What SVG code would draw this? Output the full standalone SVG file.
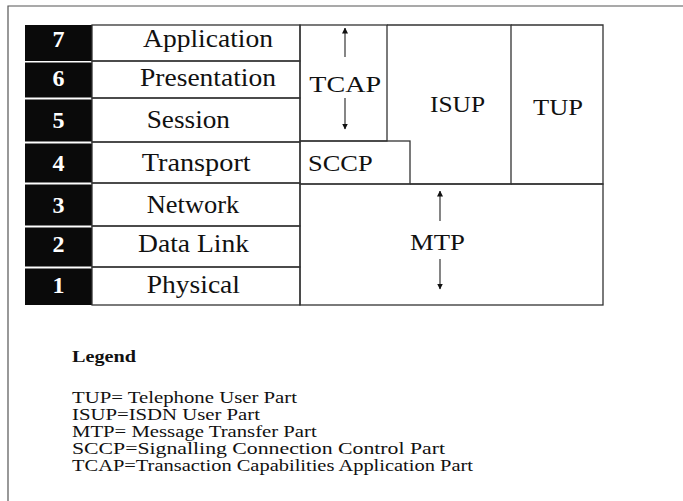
<svg xmlns="http://www.w3.org/2000/svg" width="683" height="501" viewBox="0 0 683 501" font-family="'Liberation Serif', 'Times New Roman', Times, serif">
<defs>
<style>
text{font-family:'Liberation Serif','Times New Roman',Times,serif}
.frame{fill:none;stroke:#555;stroke-width:1.2}
.ln{fill:none;stroke:#333;stroke-width:1.3}
.blk{fill:#0a0a0a}
.num{font-weight:bold;font-size:24px;fill:#fff;text-anchor:middle}
.lbl{font-size:26px;fill:#111}
.proto{font-size:24px;fill:#111}
.leg{font-size:16px;fill:#111}
.legh{font-size:17px;font-weight:bold;fill:#111}
.arr{stroke:#222;stroke-width:1.1;fill:none;marker-end:url(#ah)}
</style>
<marker id="ah" viewBox="0 0 6 8" refX="5.5" refY="4" markerWidth="6" markerHeight="8" markerUnits="userSpaceOnUse" orient="auto">
<path d="M0,1 L6,4 L0,7 Z" fill="#111"/>
</marker>
</defs>
<rect width="683" height="501" fill="#fff"/>
<path class="frame" d="M8,501 V6 H683"/>

<g id="layer7">
<rect class="blk" x="25" y="25" width="67" height="36"/>
<text class="num" x="58.5" y="47">7</text>
<rect class="ln" x="92" y="25" width="208" height="36"/>
<text class="lbl" x="143" y="46.7" textLength="130" lengthAdjust="spacingAndGlyphs">Application</text>
</g>
<g id="layer6">
<rect class="blk" x="25" y="62.5" width="67" height="35"/>
<text class="num" x="58.5" y="86">6</text>
<rect class="ln" x="92" y="61" width="208" height="37"/>
<text class="lbl" x="140" y="86" textLength="136" lengthAdjust="spacingAndGlyphs">Presentation</text>
</g>
<g id="layer5">
<rect class="blk" x="25" y="99.5" width="67" height="42"/>
<text class="num" x="58.5" y="128">5</text>
<rect class="ln" x="92" y="98" width="208" height="44"/>
<text class="lbl" x="146.7" y="128" textLength="83.3" lengthAdjust="spacingAndGlyphs">Session</text>
</g>
<g id="layer4">
<rect class="blk" x="25" y="143.5" width="67" height="39"/>
<text class="num" x="58.5" y="171">4</text>
<rect class="ln" x="92" y="142" width="208" height="41"/>
<text class="lbl" x="141.7" y="171" textLength="109" lengthAdjust="spacingAndGlyphs">Transport</text>
</g>
<g id="layer3">
<rect class="blk" x="25" y="184.5" width="67" height="41"/>
<text class="num" x="58.5" y="213">3</text>
<rect class="ln" x="92" y="183" width="208" height="43"/>
<text class="lbl" x="146.7" y="213" textLength="92.6" lengthAdjust="spacingAndGlyphs">Network</text>
</g>
<g id="layer2">
<rect class="blk" x="25" y="227.5" width="67" height="39"/>
<text class="num" x="58.5" y="252">2</text>
<rect class="ln" x="92" y="226" width="208" height="41"/>
<text class="lbl" x="138" y="252" textLength="111" lengthAdjust="spacingAndGlyphs">Data Link</text>
</g>
<g id="layer1">
<rect class="blk" x="25" y="268.5" width="67" height="36.5"/>
<text class="num" x="58.5" y="293.3">1</text>
<rect class="ln" x="92" y="267" width="208" height="38"/>
<text class="lbl" x="146.7" y="293" textLength="93.3" lengthAdjust="spacingAndGlyphs">Physical</text>
</g>

<g id="tcap">
<rect class="ln" x="300" y="25" width="87" height="116"/>
<text class="proto" x="309.3" y="91.7" font-size="25" textLength="71.7" lengthAdjust="spacingAndGlyphs">TCAP</text>
</g>
<g id="sccp">
<rect class="ln" x="300" y="141" width="110" height="43"/>
<text class="proto" x="308" y="170.7" textLength="64.7" lengthAdjust="spacingAndGlyphs">SCCP</text>
</g>
<g id="isup">
<path class="ln" d="M387,25 H511 V184 H410"/>
<text class="proto" x="430" y="111.7" font-size="23" textLength="55" lengthAdjust="spacingAndGlyphs">ISUP</text>
</g>
<g id="tup">
<path class="ln" d="M511,25 H603 V184 H511"/>
<text class="proto" x="533" y="115" font-size="23" textLength="50" lengthAdjust="spacingAndGlyphs">TUP</text>
</g>
<g id="mtp">
<rect class="ln" x="300" y="184" width="303" height="121"/>
<text class="proto" x="410" y="250" font-size="25" textLength="55" lengthAdjust="spacingAndGlyphs">MTP</text>
</g>

<g id="connectors">
<line class="arr" x1="345" y1="57" x2="345" y2="28"/>
<line class="arr" x1="345" y1="98" x2="345" y2="129"/>
<line class="arr" x1="440" y1="221" x2="440" y2="191"/>
<line class="arr" x1="440" y1="259" x2="440" y2="289"/>
</g>

<g id="legend">
<text class="legh" x="72" y="361.7" textLength="64" lengthAdjust="spacingAndGlyphs">Legend</text>
<text class="leg" x="72" y="403" textLength="225" lengthAdjust="spacingAndGlyphs">TUP= Telephone User Part</text>
<text class="leg" x="72" y="420" textLength="188" lengthAdjust="spacingAndGlyphs">ISUP=ISDN User Part</text>
<text class="leg" x="72" y="436.5" textLength="244.7" lengthAdjust="spacingAndGlyphs">MTP= Message Transfer Part</text>
<text class="leg" x="72" y="453.5" textLength="373" lengthAdjust="spacingAndGlyphs">SCCP=Signalling Connection Control Part</text>
<text class="leg" x="72" y="470.5" textLength="401" lengthAdjust="spacingAndGlyphs">TCAP=Transaction Capabilities Application Part</text>
</g>
</svg>
